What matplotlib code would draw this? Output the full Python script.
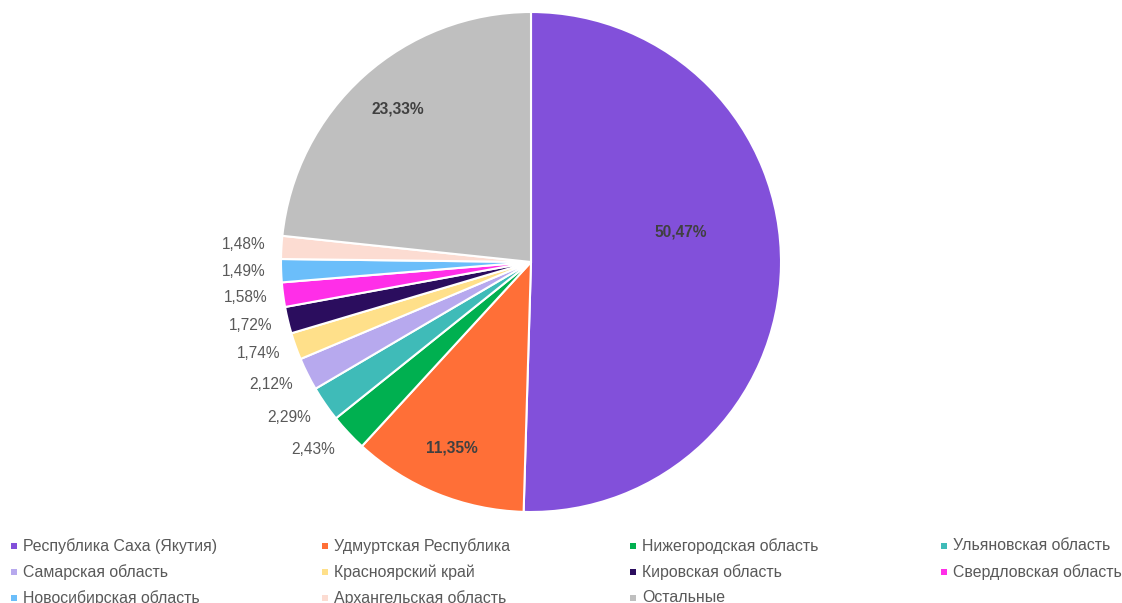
import numpy as np
import matplotlib
matplotlib.use("Agg")
import matplotlib.pyplot as plt
from matplotlib.patches import Rectangle

plt.rcParams['font.family'] = ['Liberation Sans', 'DejaVu Sans']

categories = ["Республика Саха (Якутия)", "Удмуртская Республика", "Нижегородская область",
              "Ульяновская область", "Самарская область", "Красноярский край",
              "Кировская область", "Свердловская область", "Новосибирская область",
              "Архангельская область", "Остальные"]
values = [50.47, 11.35, 2.43, 2.29, 2.12, 1.74, 1.72, 1.58, 1.49, 1.48, 23.33]
colors = ["#8250DA", "#FF6F37", "#00B050", "#3FBBB8", "#B7A9EE", "#FFE08A",
          "#2B0D5E", "#FF2EE8", "#6BBEFA", "#FCDCD2", "#BFBFBF"]

fig = plt.figure(figsize=(11.22, 6.03), dpi=100)
ax = fig.add_axes([281/1122, (603-512)/603, 500/1122, 500/603])
wedges, _ = ax.pie(values, colors=colors, startangle=90, counterclock=False,
                   radius=1.0, wedgeprops=dict(edgecolor='white', linewidth=1.5))
ax.set_xlim(-1, 1)
ax.set_ylim(-1, 1)
ax.set_aspect('equal')
ax.axis('off')

for i, (w, v) in enumerate(zip(wedges, values)):
    mid = np.deg2rad((w.theta1 + w.theta2) / 2)
    lab = f"{v:.2f}".replace('.', ',') + '%'
    if v > 10:
        if i == 0:
            r, nudge = 0.61, np.deg2rad(12)
        else:
            r, nudge = 0.81, np.deg2rad(-1)
        a = mid + nudge
        ax.text(r*np.cos(a), r*np.sin(a), lab, ha='center', va='center',
                fontsize=11.2, fontweight='bold', color='#404040')
    else:
        r = 1.15
        a = mid - np.deg2rad(3.3) * abs(np.sin(mid))
        ax.text(r*np.cos(a), r*np.sin(a), lab, ha='center', va='center',
                fontsize=11.2, color='#595959', clip_on=False)

# legend (row-major grid)
ncol = 4
col_x = [14, 325, 633, 944]
row_y = [546, 572, 598]
for i, (c, name) in enumerate(zip(colors, categories)):
    row, col = divmod(i, ncol)
    x = col_x[col]; y = row_y[row]
    fig.patches.append(Rectangle(((x-3)/1122, (603-y-3)/603), 6/1122, 6/603,
                                 transform=fig.transFigure, facecolor=c,
                                 edgecolor='none'))
    fig.text((x+9)/1122, (603-y)/603, name, ha='left', va='center',
             fontsize=11.4, color='#595959')

fig.savefig("out.png", dpi=100, facecolor='white')
